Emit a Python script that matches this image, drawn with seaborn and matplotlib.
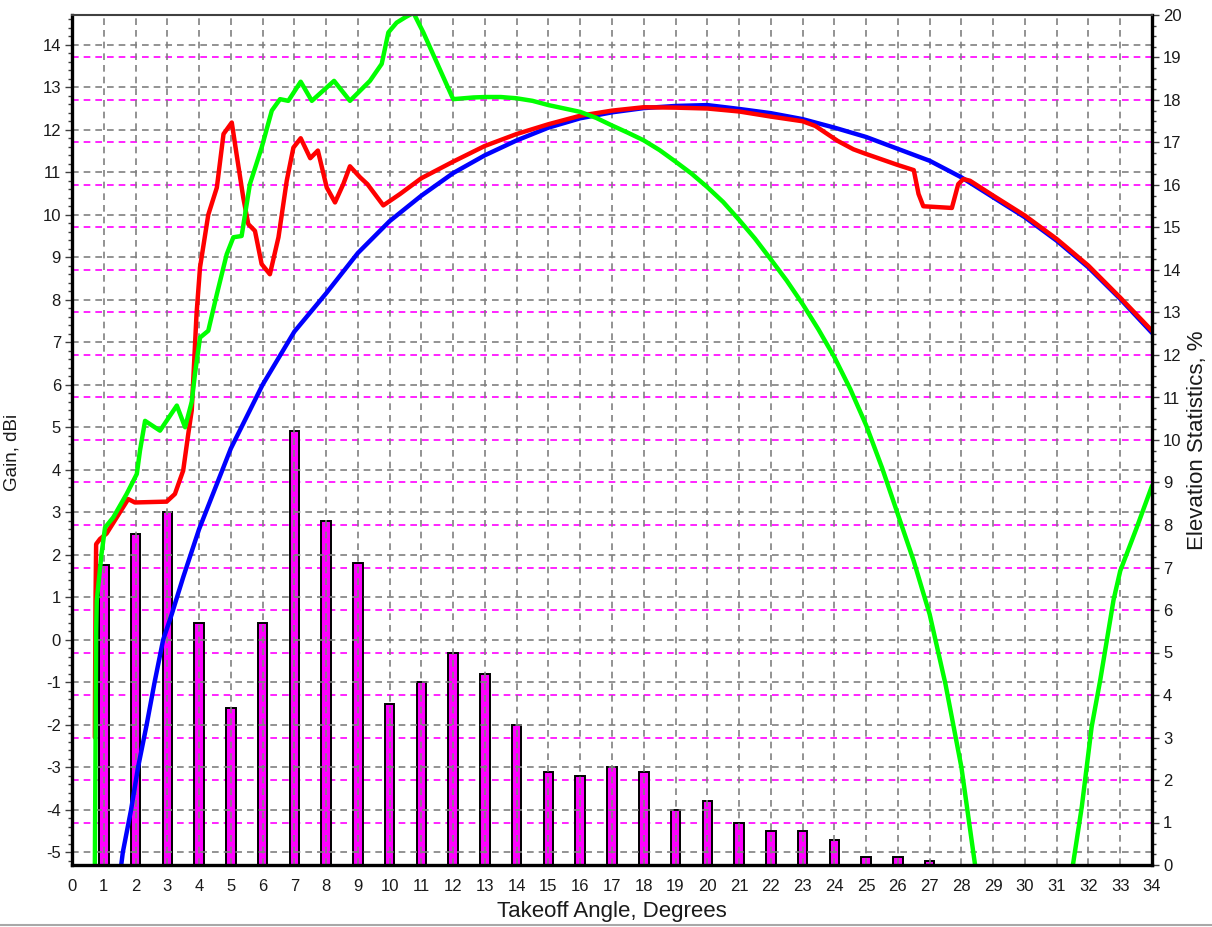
import numpy as np
import pandas as pd
import matplotlib
matplotlib.use("Agg")
import matplotlib.pyplot as plt
from matplotlib.ticker import MultipleLocator
from matplotlib.lines import Line2D
import seaborn as sns

# ---------------- data ----------------
bar_angles = [1, 2, 3, 4, 5, 6, 7, 8, 9, 10, 11, 12, 13, 14, 15, 16, 17, 18, 19, 20,
              21, 22, 23, 24, 25, 26, 27]
bar_pct = [7.05, 7.8, 8.3, 5.7, 3.7, 5.7, 10.2, 8.1, 7.1, 3.8, 4.3, 5.0, 4.5, 3.3, 2.2,
           2.1, 2.3, 2.2, 1.3, 1.5, 1.0, 0.8, 0.8, 0.6, 0.2, 0.2, 0.1]

blue_x = [1.55, 1.6, 1.86, 2.08, 2.35, 2.6, 2.87, 3.14, 3.5, 4, 5, 6, 7, 8, 9, 10, 11, 12,
          13, 14, 15, 16, 17, 18, 19, 20, 21, 22, 23, 24, 25, 26, 27, 28, 29, 30, 31, 32,
          33, 34]
blue_y = [-5.3, -5.0, -4.0, -3.0, -2.0, -1.0, 0.0, 0.6, 1.47, 2.6, 4.5, 6.0, 7.25, 8.15,
          9.1, 9.85, 10.45, 10.98, 11.4, 11.75, 12.05, 12.27, 12.41, 12.51, 12.56, 12.58,
          12.49, 12.39, 12.25, 12.05, 11.83, 11.55, 11.27, 10.88, 10.41, 9.94, 9.39, 8.76,
          8.02, 7.22]

red_x = [0.72, 0.74, 0.76, 0.88, 1.09, 1.77, 1.98, 2.98, 3.24, 3.5, 3.66, 3.77, 3.92, 4.03,
         4.29, 4.56, 4.77, 5.03, 5.18, 5.39, 5.55, 5.76, 5.97, 6.23, 6.5, 6.76, 6.97, 7.2,
         7.5, 7.74, 8.02, 8.28, 8.54, 8.75, 9.07, 9.3, 9.8, 10.33, 11, 12, 13, 14, 15, 16,
         17, 18, 19, 20, 21, 22, 23, 23.4, 24.1, 24.6, 25, 26, 26.5, 26.65, 26.8, 27.7,
         27.9, 28.06, 28.27, 29, 30, 31, 32, 33, 34]
red_y = [-2.3, 0.9, 2.25, 2.37, 2.5, 3.31, 3.23, 3.25, 3.43, 3.98, 4.84, 5.4, 7.66, 8.76,
         10.0, 10.64, 11.9, 12.17, 11.43, 10.41, 9.78, 9.62, 8.84, 8.6, 9.47, 10.8, 11.58,
         11.8, 11.33, 11.51, 10.64, 10.29, 10.72, 11.14, 10.88, 10.72, 10.22, 10.49, 10.86,
         11.25, 11.62, 11.9, 12.13, 12.33, 12.45, 12.53, 12.52, 12.5, 12.43, 12.31, 12.2,
         12.09, 11.74, 11.54, 11.43, 11.17, 11.05, 10.49, 10.2, 10.16, 10.72, 10.84, 10.8,
         10.45, 9.98, 9.43, 8.8, 8.05, 7.27]

green1_x = [0.72, 0.76, 0.78, 0.93, 1.04, 1.3, 1.72, 2.04, 2.14, 2.3, 2.77, 3.3, 3.56, 3.77,
            3.87, 4.03, 4.29, 4.56, 4.87, 5.08, 5.34, 5.45, 5.6, 5.97, 6.29, 6.55, 6.81, 7.2,
            7.55, 8.25, 8.75, 9.38, 9.75, 9.96, 10.22, 10.5, 10.75, 11.06, 12.0, 12.64,
            13.0, 13.5, 14.0, 14.5, 15.0, 15.5, 16.0, 16.5, 17.0, 17.5, 18.0, 18.5, 19.0,
            19.5, 20.0, 20.5, 21.0, 21.5, 22.0, 22.5, 23.0, 23.5, 24.0, 24.5, 25.0, 25.5,
            26.0, 26.5, 27.0, 27.5, 28.0, 28.43]
green1_y = [-5.3, 0.2, 0.92, 2.02, 2.64, 2.88, 3.43, 3.9, 4.45, 5.15, 4.92, 5.51, 5.0, 5.6,
            6.25, 7.11, 7.27, 8.13, 9.07, 9.47, 9.5, 10.02, 10.72, 11.58, 12.45, 12.72,
            12.68, 13.13, 12.68, 13.15, 12.68, 13.15, 13.55, 14.29, 14.52, 14.65, 14.75,
            14.29, 12.72, 12.76, 12.77, 12.77, 12.74, 12.68, 12.58, 12.5, 12.42, 12.28, 12.1,
            11.93, 11.75, 11.52, 11.25, 10.97, 10.65, 10.3, 9.88, 9.44, 8.95, 8.45, 7.9,
            7.3, 6.65, 5.9, 5.05, 4.05, 2.95, 1.85, 0.6, -1.05, -3.0, -5.3]
green2_x = [31.51, 31.79, 32.1, 32.37, 32.79, 33.0, 33.5, 34.0]
green2_y = [-5.3, -3.93, -2.05, -0.95, 0.94, 1.62, 2.6, 3.62]

x_ticks = list(range(0, 35))
gain_ticks = list(range(-5, 15))
pct_ticks = list(range(0, 21))

# ---------------- style ----------------
sns.set_theme(style="white")
plt.rcParams["font.family"] = ["Liberation Sans", "DejaVu Sans"]
text_color = "#1a1a1a"

W, H = 1212, 927
fig = plt.figure(figsize=(W / 100, H / 100), dpi=100)
fig.patch.set_facecolor("white")
L, R, B, T = 72, 1152, 865, 15
rect = [L / W, (H - B) / H, (R - L) / W, (B - T) / H]
ax2 = fig.add_axes(rect)          # right axis (statistics) – bottom layer
ax1 = fig.add_axes(rect, sharex=ax2)
ax1.patch.set_visible(False)
ax1.set_zorder(ax2.get_zorder() + 1)

# bars on the right axis
bars_df = pd.DataFrame({"angle": bar_angles, "pct": bar_pct})
sns.barplot(data=bars_df, x="angle", y="pct", ax=ax2, native_scale=True, width=0.3,
            color="#FF00FF", saturation=1, edgecolor="black", linewidth=1.4, zorder=3)

# lines on the left axis
lw = 3.2
sns.lineplot(x=blue_x, y=blue_y, ax=ax1, color="#0000FF", linewidth=lw, estimator=None,
             sort=False)
sns.lineplot(x=red_x, y=red_y, ax=ax1, color="#FF0000", linewidth=lw, estimator=None,
             sort=False)
sns.lineplot(x=green1_x, y=green1_y, ax=ax1, color="#00FF00", linewidth=lw, estimator=None,
             sort=False)
sns.lineplot(x=green2_x, y=green2_y, ax=ax1, color="#00FF00", linewidth=lw, estimator=None,
             sort=False)

# limits / ticks
ax1.set_xlim(0, 34)
ax1.set_ylim(-5.3, 14.7)
ax2.set_ylim(0, 20)

ax1.set_xticks(x_ticks)
ax1.set_xticklabels([str(v) for v in x_ticks])
ax1.xaxis.set_minor_locator(MultipleLocator(0.2))
ax1.set_yticks(gain_ticks)
ax1.set_yticklabels([str(v) for v in gain_ticks])
ax1.yaxis.set_minor_locator(MultipleLocator(0.2))
ax1.yaxis.tick_left()

ax2.yaxis.tick_right()
ax2.yaxis.set_label_position("right")
ax2.set_yticks(pct_ticks)
ax2.set_yticklabels([str(v) for v in pct_ticks])
ax2.yaxis.set_minor_locator(MultipleLocator(0.25))
ax2.tick_params(axis="x", which="both", bottom=False, labelbottom=False)

# grids
ax1.grid(True, which="major", axis="both", color="#808080", linestyle=(0, (4, 3)),
         linewidth=1.2)
ax2.grid(True, which="major", axis="y", color="#FF00FF", linestyle=(0, (4, 3)),
         linewidth=1.2)
ax2.grid(False, axis="x")
ax1.set_axisbelow(True)

# spines
for ax in (ax1, ax2):
    for s in ax.spines.values():
        s.set_visible(False)
for side in ("left", "bottom", "right"):
    ax1.spines[side].set_visible(True)
    ax1.spines[side].set_linewidth(2.4)
    ax1.spines[side].set_color("black")
ax1.spines["top"].set_visible(True)
ax1.spines["top"].set_linewidth(1.5)
ax1.spines["top"].set_color("#404040")

fs_tick = 12
ax1.tick_params(axis="both", which="major", length=5, width=1, color="#404040",
                labelsize=fs_tick, labelcolor=text_color, direction="out", pad=3)
ax1.tick_params(axis="x", which="major", pad=5)
ax1.tick_params(axis="both", which="minor", length=3, width=1, color="#404040",
                direction="out")
ax1.tick_params(axis="y", which="both", right=False, labelright=False)
ax2.tick_params(axis="y", which="major", length=5, width=1, color="#404040",
                labelsize=fs_tick, labelcolor=text_color, direction="out", pad=3)
ax2.tick_params(axis="y", which="minor", length=3, width=1, color="#404040",
                direction="out")

ax1.set_xlabel("Takeoff Angle, Degrees", fontsize=16, color=text_color, labelpad=5)
ax1.set_ylabel("Gain, dBi", fontsize=13.5, color=text_color)
ax1.yaxis.set_label_coords((21 - L) / (R - L), (B - 452) / (B - T))
ax2.set_xlabel("")
ax2.set_ylabel("Elevation Statistics, %", fontsize=16, color=text_color)
ax2.yaxis.set_label_coords((1187 - L) / (R - L), (B - 440) / (B - T))

# window border line at the bottom
fig.add_artist(Line2D([0, 1], [2.5 / H, 2.5 / H], color="#a8a8a8", linewidth=1.5))

fig.savefig("out.png", dpi=100, facecolor="white")
